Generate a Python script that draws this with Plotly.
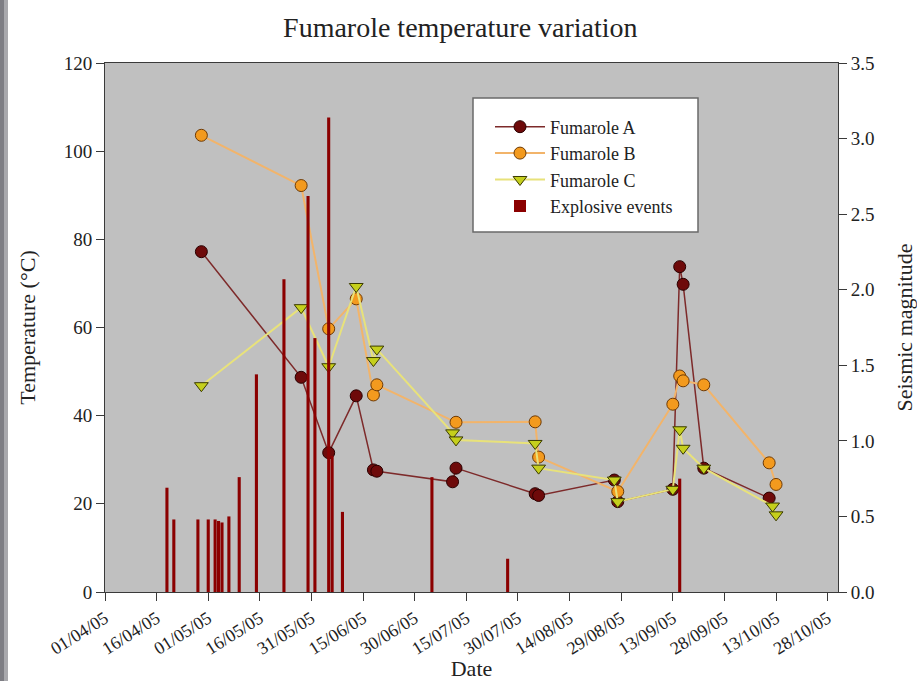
import plotly.graph_objects as go

# Fumarole A temperatures (degC)
dates_a = ["2005-04-29", "2005-05-28", "2005-06-05", "2005-06-13", "2005-06-18",
           "2005-06-19", "2005-07-11", "2005-07-12", "2005-08-04", "2005-08-05",
           "2005-08-27", "2005-08-28", "2005-09-13", "2005-09-15", "2005-09-16",
           "2005-09-22", "2005-10-11"]
temp_a = [77.2, 48.7, 31.6, 44.5, 27.7, 27.4, 25.0, 28.1, 22.3, 21.9,
          25.4, 20.5, 23.3, 73.8, 69.8, 28.1, 21.3]

# Fumarole B temperatures (degC)
dates_b = ["2005-04-29", "2005-05-28", "2005-06-05", "2005-06-13", "2005-06-18",
           "2005-06-19", "2005-07-12", "2005-08-04", "2005-08-05", "2005-08-28",
           "2005-09-13", "2005-09-15", "2005-09-16", "2005-09-22", "2005-10-11",
           "2005-10-13"]
temp_b = [103.6, 92.2, 59.7, 66.5, 44.7, 47.0, 38.5, 38.6, 30.6, 22.8,
          42.6, 49.0, 47.9, 47.0, 29.3, 24.4]

# Fumarole C temperatures (degC)
dates_c = ["2005-04-29", "2005-05-28", "2005-06-05", "2005-06-13", "2005-06-18",
           "2005-06-19", "2005-07-11", "2005-07-12", "2005-08-04", "2005-08-05",
           "2005-08-27", "2005-08-28", "2005-09-13", "2005-09-15", "2005-09-16",
           "2005-09-22", "2005-10-12", "2005-10-13"]
temp_c = [46.8, 64.5, 51.1, 69.3, 52.5, 55.1, 36.1, 34.5, 33.7, 28.1,
          25.4, 20.5, 23.3, 36.8, 32.6, 28.1, 19.5, 17.5]

# Explosive events (seismic magnitude)
event_dates = ["2005-04-19", "2005-04-21", "2005-04-28", "2005-05-01", "2005-05-03",
               "2005-05-04", "2005-05-05", "2005-05-07", "2005-05-10", "2005-05-15",
               "2005-05-23", "2005-05-30", "2005-06-01", "2005-06-05", "2005-06-06",
               "2005-06-09", "2005-07-05", "2005-07-27", "2005-09-15"]
event_mag = [0.69, 0.48, 0.48, 0.48, 0.48, 0.47, 0.46, 0.50, 0.76, 1.44,
             2.07, 2.62, 1.68, 3.14, 0.90, 0.53, 0.76, 0.22, 0.75]

FONT = "Liberation Serif, Times New Roman, serif"
DAY_MS = 86400000

fig = go.Figure()

fig.add_trace(go.Scatter(
    x=dates_a, y=temp_a, name="Fumarole A", mode="lines+markers",
    line=dict(color="#7d2a2a", width=1.5),
    marker=dict(symbol="circle", size=12, color="#6e0a0a",
                line=dict(color="#2a0000", width=1)),
))
fig.add_trace(go.Scatter(
    x=dates_b, y=temp_b, name="Fumarole B", mode="lines+markers",
    line=dict(color="#f2b46a", width=2),
    marker=dict(symbol="circle", size=12, color="#f39a1e",
                line=dict(color="#6e3a05", width=1)),
))
fig.add_trace(go.Scatter(
    x=dates_c, y=temp_c, name="Fumarole C", mode="lines+markers",
    line=dict(color="#e8e27a", width=2),
    marker=dict(symbol="triangle-down", size=12, color="#c5cf1c",
                line=dict(color="#3a3a00", width=1)),
))
fig.add_trace(go.Bar(
    x=event_dates, y=event_mag, name="Explosive events", yaxis="y2",
    width=0.9 * DAY_MS, marker=dict(color="#8b0000", line=dict(width=0)),
))

axis_common = dict(
    showline=True, linecolor="#3a3a3a", linewidth=1,
    ticks="outside", ticklen=8, tickcolor="#3a3a3a",
    showgrid=False, zeroline=False, automargin=False,
)
tick_font = dict(family=FONT, size=19, color="#222")

fig.update_layout(
    width=917, height=681,
    margin=dict(l=105, r=79, t=63, b=89),
    paper_bgcolor="white", plot_bgcolor="#c0c0c0",
    font=dict(family=FONT, color="#222"),
    title=dict(text="Fumarole temperature variation", x=0.502, xref="container",
               y=0.96, yref="container", yanchor="middle",
               font=dict(family=FONT, size=28, color="#222")),
    xaxis=dict(
        type="date", range=["2005-04-01", "2005-10-31"],
        tick0="2005-04-01", dtick=15 * DAY_MS, tickformat="%d/%m/%y",
        tickangle=-32, mirror=True,
        title=dict(text="Date", standoff=2, font=dict(family=FONT, size=22)),
        tickfont=dict(family=FONT, size=18, color="#222"),
        **axis_common,
    ),
    yaxis=dict(
        range=[0, 120], dtick=20, mirror=True,
        title=dict(text="Temperature (°C)", standoff=22, font=dict(family=FONT, size=22)),
        tickfont=tick_font,
        **axis_common,
    ),
    yaxis2=dict(
        range=[0, 3.5], dtick=0.5, tickformat=".1f", overlaying="y", side="right",
        title=dict(text="Seismic magnitude", standoff=28, font=dict(family=FONT, size=22)),
        tickfont=tick_font,
        **axis_common,
    ),
    barmode="overlay",
    showlegend=True,
    legend=dict(
        x=(490 - 105) / 733, y=0.914, xanchor="left", yanchor="top",
        bgcolor="rgba(0,0,0,0)", borderwidth=0,
        font=dict(family=FONT, size=18, color="#222"),
        itemwidth=50, tracegroupgap=0,
    ),
    shapes=[
        # legend frame
        dict(type="rect", xref="paper", yref="paper",
             x0=(473 - 105) / 733, x1=(698 - 105) / 733,
             y0=(592 - 232) / 529, y1=(592 - 98) / 529,
             fillcolor="white", line=dict(color="#6a6a6a", width=1.5), layer="above"),
        # grey slide edge
        dict(type="rect", xref="paper", yref="paper",
             x0=-105 / 733, x1=(4 - 105) / 733, y0=-89 / 529, y1=1 + 63 / 529,
             fillcolor="#7e7e84", line=dict(width=0), layer="above"),
        dict(type="rect", xref="paper", yref="paper",
             x0=(4 - 105) / 733, x1=(8 - 105) / 733, y0=-89 / 529, y1=1 + 63 / 529,
             fillcolor="#a9a9ad", line=dict(width=0), layer="above"),
    ],
)

fig.write_html("out.html")
